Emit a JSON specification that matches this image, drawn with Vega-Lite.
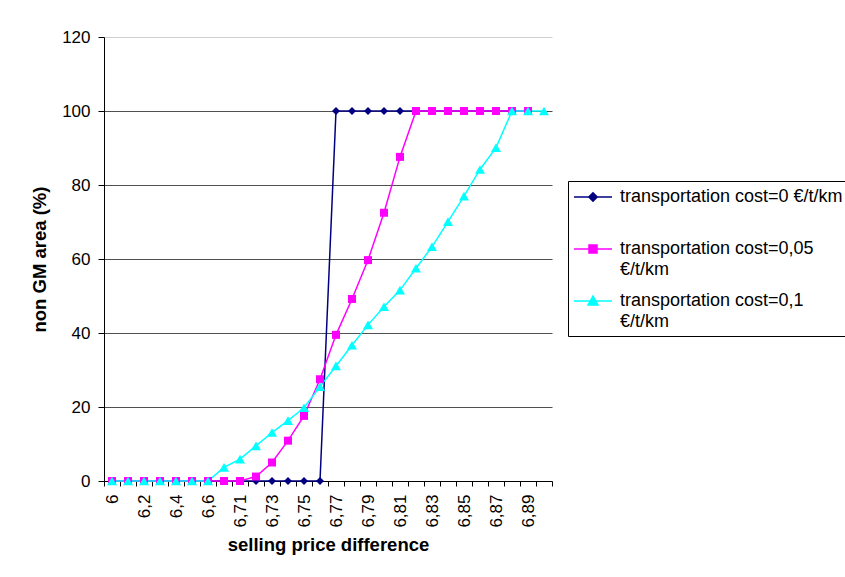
{
  "$schema": "https://vega.github.io/schema/vega-lite/v6.json",
  "autosize": {"type": "none"},
  "padding": {"left": 104, "top": 37, "right": 293, "bottom": 96},
  "width": 448,
  "height": 444,
  "background": "white",
  "config": {
    "font": "Liberation Sans",
    "view": {"stroke": null},
    "axis": {
      "labelFont": "Liberation Sans",
      "titleFont": "Liberation Sans",
      "labelColor": "black",
      "titleColor": "black",
      "domainColor": "black",
      "tickColor": "black",
      "labelFontSize": 17,
      "titleFontSize": 18.5,
      "titleFontWeight": "bold"
    }
  },
  "data": {
    "values": [
      {"p": "6", "cost": "0", "v": 0}, {"p": "6,1", "cost": "0", "v": 0}, {"p": "6,2", "cost": "0", "v": 0}, {"p": "6,3", "cost": "0", "v": 0},
      {"p": "6,4", "cost": "0", "v": 0}, {"p": "6,5", "cost": "0", "v": 0}, {"p": "6,6", "cost": "0", "v": 0}, {"p": "6,7", "cost": "0", "v": 0},
      {"p": "6,71", "cost": "0", "v": 0}, {"p": "6,72", "cost": "0", "v": 0}, {"p": "6,73", "cost": "0", "v": 0}, {"p": "6,74", "cost": "0", "v": 0},
      {"p": "6,75", "cost": "0", "v": 0}, {"p": "6,76", "cost": "0", "v": 0}, {"p": "6,77", "cost": "0", "v": 100}, {"p": "6,78", "cost": "0", "v": 100},
      {"p": "6,79", "cost": "0", "v": 100}, {"p": "6,8", "cost": "0", "v": 100}, {"p": "6,81", "cost": "0", "v": 100}, {"p": "6,82", "cost": "0", "v": 100},
      {"p": "6,83", "cost": "0", "v": 100}, {"p": "6,84", "cost": "0", "v": 100}, {"p": "6,85", "cost": "0", "v": 100}, {"p": "6,86", "cost": "0", "v": 100},
      {"p": "6,87", "cost": "0", "v": 100}, {"p": "6,88", "cost": "0", "v": 100}, {"p": "6,89", "cost": "0", "v": 100},

      {"p": "6", "cost": "0,05", "v": 0}, {"p": "6,1", "cost": "0,05", "v": 0}, {"p": "6,2", "cost": "0,05", "v": 0}, {"p": "6,3", "cost": "0,05", "v": 0},
      {"p": "6,4", "cost": "0,05", "v": 0}, {"p": "6,5", "cost": "0,05", "v": 0}, {"p": "6,6", "cost": "0,05", "v": 0}, {"p": "6,7", "cost": "0,05", "v": 0},
      {"p": "6,71", "cost": "0,05", "v": 0}, {"p": "6,72", "cost": "0,05", "v": 1.2}, {"p": "6,73", "cost": "0,05", "v": 5.0}, {"p": "6,74", "cost": "0,05", "v": 10.9},
      {"p": "6,75", "cost": "0,05", "v": 17.6}, {"p": "6,76", "cost": "0,05", "v": 27.5}, {"p": "6,77", "cost": "0,05", "v": 39.5}, {"p": "6,78", "cost": "0,05", "v": 49.2},
      {"p": "6,79", "cost": "0,05", "v": 59.7}, {"p": "6,8", "cost": "0,05", "v": 72.5}, {"p": "6,81", "cost": "0,05", "v": 87.6}, {"p": "6,82", "cost": "0,05", "v": 100},
      {"p": "6,83", "cost": "0,05", "v": 100}, {"p": "6,84", "cost": "0,05", "v": 100}, {"p": "6,85", "cost": "0,05", "v": 100}, {"p": "6,86", "cost": "0,05", "v": 100},
      {"p": "6,87", "cost": "0,05", "v": 100}, {"p": "6,88", "cost": "0,05", "v": 100}, {"p": "6,89", "cost": "0,05", "v": 100},

      {"p": "6", "cost": "0,1", "v": 0}, {"p": "6,1", "cost": "0,1", "v": 0}, {"p": "6,2", "cost": "0,1", "v": 0}, {"p": "6,3", "cost": "0,1", "v": 0},
      {"p": "6,4", "cost": "0,1", "v": 0}, {"p": "6,5", "cost": "0,1", "v": 0}, {"p": "6,6", "cost": "0,1", "v": 0}, {"p": "6,7", "cost": "0,1", "v": 3.7},
      {"p": "6,71", "cost": "0,1", "v": 5.9}, {"p": "6,72", "cost": "0,1", "v": 9.5}, {"p": "6,73", "cost": "0,1", "v": 13.1}, {"p": "6,74", "cost": "0,1", "v": 16.3},
      {"p": "6,75", "cost": "0,1", "v": 19.8}, {"p": "6,76", "cost": "0,1", "v": 25.5}, {"p": "6,77", "cost": "0,1", "v": 31.1}, {"p": "6,78", "cost": "0,1", "v": 36.7},
      {"p": "6,79", "cost": "0,1", "v": 42.2}, {"p": "6,8", "cost": "0,1", "v": 47.1}, {"p": "6,81", "cost": "0,1", "v": 51.6}, {"p": "6,82", "cost": "0,1", "v": 57.5},
      {"p": "6,83", "cost": "0,1", "v": 63.3}, {"p": "6,84", "cost": "0,1", "v": 70.1}, {"p": "6,85", "cost": "0,1", "v": 77.0}, {"p": "6,86", "cost": "0,1", "v": 84.2},
      {"p": "6,87", "cost": "0,1", "v": 90.1}, {"p": "6,88", "cost": "0,1", "v": 100}, {"p": "6,89", "cost": "0,1", "v": 100}, {"p": "6,9", "cost": "0,1", "v": 100}
    ]
  },
  "encoding": {
    "x": {
      "field": "p",
      "type": "ordinal",
      "sort": null,
      "scale": {
        "type": "band",
        "paddingInner": 0,
        "paddingOuter": 0,
        "domain": ["6", "6,1", "6,2", "6,3", "6,4", "6,5", "6,6", "6,7", "6,71", "6,72", "6,73", "6,74", "6,75", "6,76", "6,77", "6,78", "6,79", "6,8", "6,81", "6,82", "6,83", "6,84", "6,85", "6,86", "6,87", "6,88", "6,89", "6,9"]
      },
      "axis": {
        "title": "selling price difference",
        "titlePadding": 8,
        "labelAngle": -90,
        "labelPadding": 8,
        "labelExpr": "indexof(['6','6,2','6,4','6,6','6,71','6,73','6,75','6,77','6,79','6,81','6,83','6,85','6,87','6,89'], datum.value) >= 0 ? datum.value : ''",
        "tickBand": "extent",
        "tickSize": 5,
        "labelOverlap": false,
        "grid": false
      }
    },
    "y": {
      "field": "v",
      "type": "quantitative",
      "scale": {"domain": [0, 120], "nice": false, "zero": true},
      "axis": {
        "title": "non GM area (%)",
        "titlePadding": 12,
        "values": [0, 20, 40, 60, 80, 100, 120],
        "tickSize": 6,
        "labelPadding": 8,
        "grid": true,
        "gridColor": {"condition": {"test": "datum.value === 120", "value": "#d0d0d0"}, "value": "#505050"},
        "gridWidth": 1
      }
    },
    "color": {
      "field": "cost",
      "type": "nominal",
      "sort": ["0", "0,05", "0,1"],
      "scale": {"domain": ["0", "0,05", "0,1"], "range": ["#000080", "#FF00FF", "#00FFFF"]},
      "legend": {
        "title": null,
        "orient": "none",
        "legendX": 464,
        "legendY": 144,
        "padding": 5,
        "strokeColor": "black",
        "fillColor": "white",
        "symbolSize": 400,
        "symbolOffset": 9,
        "symbolStrokeWidth": 1.5,
        "labelFont": "Liberation Sans",
        "labelFontSize": 18,
        "labelColor": "black",
        "labelOffset": 16,
        "labelLimit": 400,
        "rowPadding": 11,
        "labelExpr": "datum.value === '0' ? ['transportation cost=0 €/t/km', ''] : datum.value === '0,05' ? ['transportation cost=0,05', '€/t/km'] : ['transportation cost=0,1', '€/t/km']",
        "encode": {
          "labels": {"update": {"lineHeight": {"value": 21}}},
          "symbols": {
            "update": {
              "shape": {"signal": "datum.value === '0' ? 'M-1.9,0H1.9M0,-0.42L0.42,0L0,0.42L-0.42,0Z' : datum.value === '0,05' ? 'M-1.9,0H1.9M-0.4,-0.4H0.4V0.4H-0.4Z' : 'M-1.9,0H1.9M0,-0.5L0.5,0.4L-0.5,0.4Z'"},
              "fill": {"scale": "color", "field": "value"},
              "stroke": {"scale": "color", "field": "value"},
              "strokeWidth": {"value": 1.5},
              "size": {"value": 400},
              "opacity": {"value": 1}
            }
          }
        }
      }
    }
  },
  "layer": [
    {
      "mark": {"type": "line", "strokeWidth": 1.5}
    },
    {
      "transform": [{"filter": "datum.cost === '0'"}],
      "mark": {"type": "point", "filled": true, "opacity": 1, "shape": "diamond", "size": 64}
    },
    {
      "transform": [{"filter": "datum.cost === '0,05'"}],
      "mark": {"type": "point", "filled": true, "opacity": 1, "shape": "square", "size": 64}
    },
    {
      "transform": [{"filter": "datum.cost === '0,1'"}],
      "mark": {"type": "point", "filled": true, "opacity": 1, "shape": "triangle-up", "size": 100}
    }
  ]
}
